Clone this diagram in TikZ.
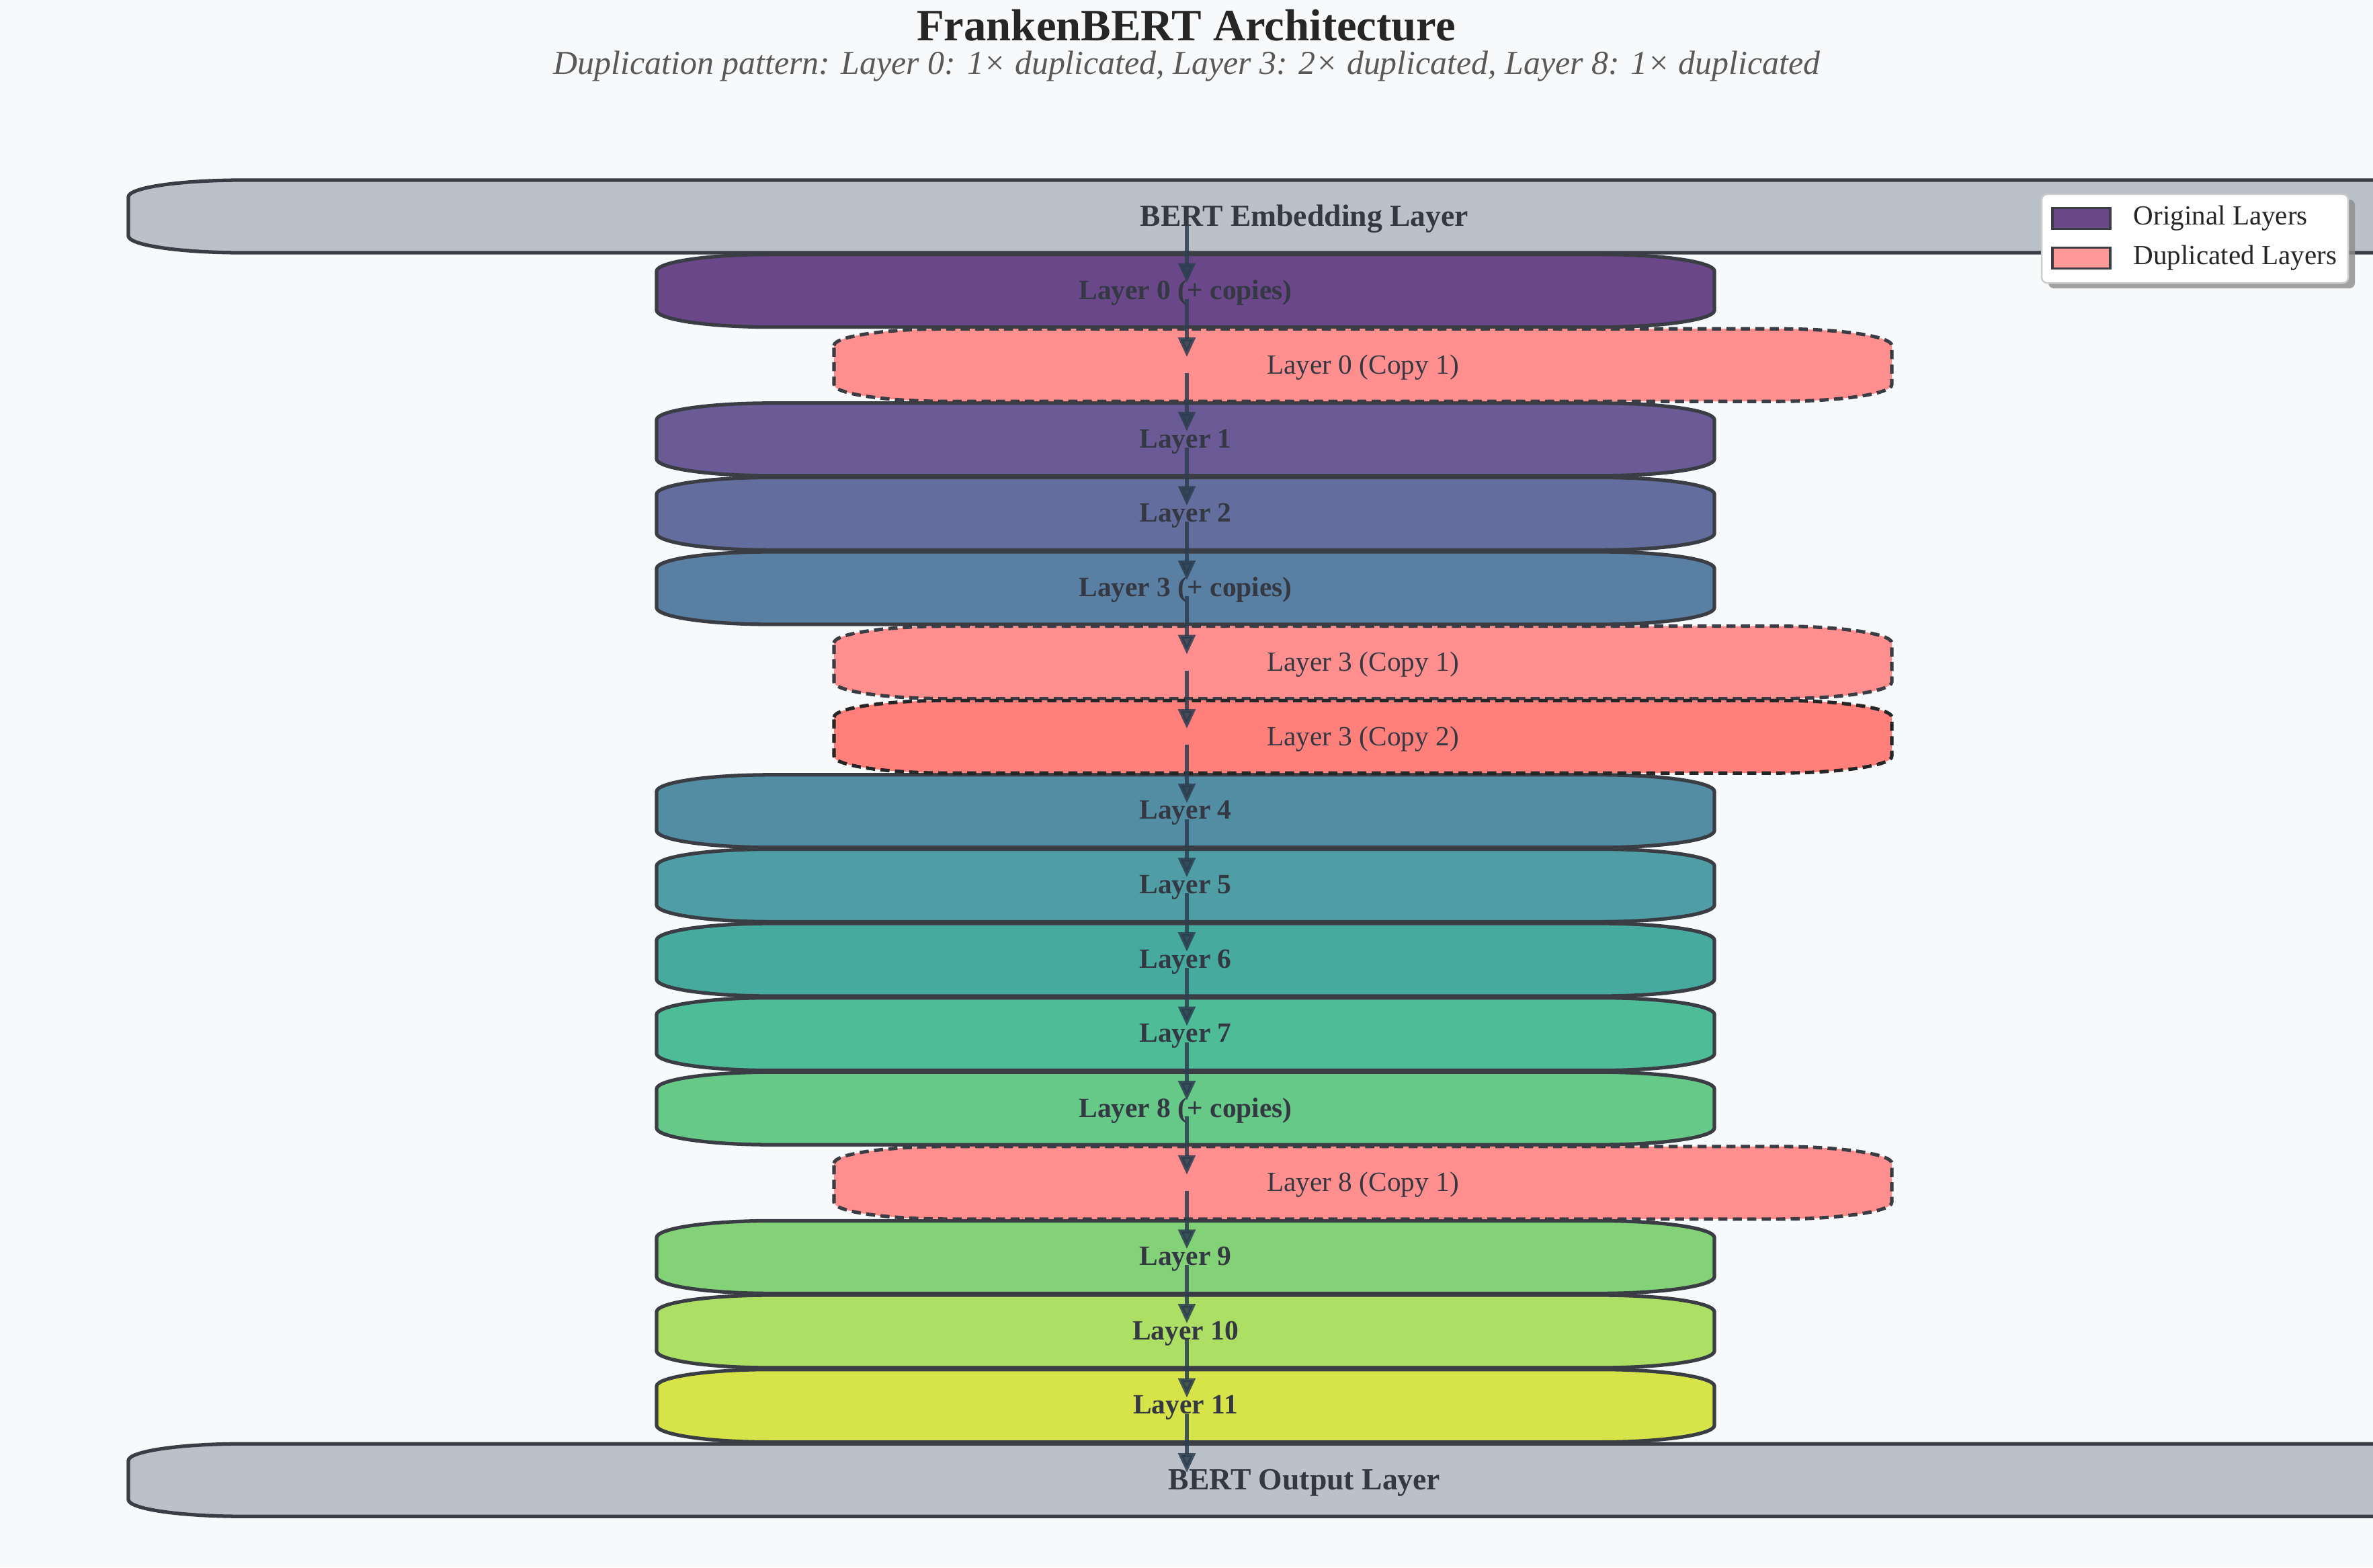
\documentclass[tikz,border=0pt]{standalone}
\usepackage{fontspec}
\setmainfont{Liberation Serif}
\usetikzlibrary{arrows.meta, positioning, shadows}
\definecolor{bgGray}{HTML}{F8F9FA}
\definecolor{inkGray}{HTML}{333842}
\definecolor{edgeGray}{HTML}{3A3D44}
\definecolor{ioGray}{HTML}{BBC1C9}
\definecolor{arrowBlue}{HTML}{2C3E50}
\definecolor{dupRed}{HTML}{FF8F8F}
\definecolor{dupDeep}{HTML}{FF7F7B}
\definecolor{dupLight}{HTML}{FF9999}
\definecolor{lay0}{HTML}{6A4789}
\definecolor{lay1}{HTML}{6A5B96}
\definecolor{lay2}{HTML}{636E9E}
\definecolor{lay3}{HTML}{597FA3}
\definecolor{lay4}{HTML}{538DA3}
\definecolor{lay5}{HTML}{4F9EA5}
\definecolor{lay6}{HTML}{47AA9F}
\definecolor{lay7}{HTML}{4FBC98}
\definecolor{lay8}{HTML}{66C987}
\definecolor{lay9}{HTML}{84D278}
\definecolor{lay10}{HTML}{ACDF64}
\definecolor{lay11}{HTML}{D6E44A}

% slab with flat elliptic ends: style, centre x, centre y, half width
\newcommand{\slab}[4]{%
  \path[#1] (#2-#4,#3+0.29) arc[start angle=180, end angle=90, x radius=1.7, y radius=0.25]
    -- (#2+#4-1.7,#3+0.54) arc[start angle=90, end angle=0, x radius=1.7, y radius=0.25]
    -- (#2+#4,#3-0.29) arc[start angle=0, end angle=-90, x radius=1.7, y radius=0.25]
    -- (#2-#4+1.7,#3-0.54) arc[start angle=270, end angle=180, x radius=1.7, y radius=0.25]
    -- cycle;}

\begin{document}
\begin{tikzpicture}[
    lbl/.style={font=\fontsize{11.8}{14}\selectfont\bfseries, text=inkGray, yshift=-0.03cm},
    iolbl/.style={font=\fontsize{13}{15}\selectfont\bfseries, text=inkGray, yshift=-0.04cm},
    copylbl/.style={font=\fontsize{11.75}{14}\selectfont, text=inkGray, yshift=-0.03cm},
    orig/.style={draw=edgeGray, line width=1.5pt},
    io/.style={draw=edgeGray, line width=1.5pt, fill=ioGray},
    dup/.style={draw=edgeGray, line width=1.45pt, dash pattern=on 0.135cm off 0.08cm, fill=dupRed},
    arr/.style={-{Triangle[length=0.29cm, width=0.25cm]}, line width=1.6pt, arrowBlue, opacity=0.85, shorten <=0.09cm, shorten >=0.15cm},
    swatch/.style={draw=edgeGray, line width=1.1pt, minimum width=0.86cm, minimum height=0.31cm, inner sep=0pt},
    legtxt/.style={font=\fontsize{11.7}{14}\selectfont, text=black!85, inner sep=0pt}
  ]
  \useasboundingbox (0,0) rectangle (35.31,-23.32);
  \fill[bgGray] (0,0) rectangle (35.31,-23.32);
  \clip (0,0) rectangle (35.31,-23.32);

  % title
  \node[font=\fontsize{19}{22}\selectfont\bfseries, text=black!85, anchor=base] (title) at (17.65,-0.60) {FrankenBERT Architecture};
  \node[font=\fontsize{14.2}{17}\selectfont\itshape, text=black!65, anchor=base] (subtitle) at (17.66,-1.10) {Duplication pattern: Layer 0: 1× duplicated, Layer 3: 2× duplicated, Layer 8: 1× duplicated};

  % embedding
  \slab{io}{19.41}{-3.22}{17.5}
  \node[iolbl] (emb) at (19.41,-3.22) {BERT Embedding Layer};

  % original layers
  \foreach \k/\r/\t in {0/1/Layer 0 (+ copies), 1/3/Layer 1, 2/4/Layer 2, 3/5/Layer 3 (+ copies),
      4/8/Layer 4, 5/9/Layer 5, 6/10/Layer 6, 7/11/Layer 7, 8/12/Layer 8 (+ copies),
      9/14/Layer 9, 10/15/Layer 10, 11/16/Layer 11} {
    \pgfmathsetmacro{\yy}{-3.22-1.106*\r}
    \slab{orig, fill=lay\k}{17.64}{\yy}{7.87}
    \node[lbl] (L\k) at (17.64,\yy) {\t};
  }

  % duplicated layers
  \slab{dup}{20.28}{-5.432}{7.87}
  \node[copylbl] (C0a) at (20.28,-5.432) {Layer 0 (Copy 1)};
  \slab{dup}{20.28}{-9.856}{7.87}
  \node[copylbl] (C3a) at (20.28,-9.856) {Layer 3 (Copy 1)};
  \slab{dup, fill=dupDeep, draw=black!85}{20.28}{-10.962}{7.87}
  \node[copylbl] (C3b) at (20.28,-10.962) {Layer 3 (Copy 2)};
  \slab{dup}{20.28}{-17.598}{7.87}
  \node[copylbl] (C8a) at (20.28,-17.598) {Layer 8 (Copy 1)};

  % output
  \slab{io}{19.41}{-22.022}{17.5}
  \node[iolbl] (out) at (19.41,-22.022) {BERT Output Layer};

  % data flow
  \coordinate (spine) at (17.66,0);
  \foreach \a/\b in {emb/L0, L0/C0a, C0a/L1, L1/L2, L2/L3, L3/C3a, C3a/C3b, C3b/L4,
      L4/L5, L5/L6, L6/L7, L7/L8, L8/C8a, C8a/L9, L9/L10, L10/L11, L11/out}
    \draw[arr] (spine |- \a) -- (spine |- \b);

  % legend
  \node[fill=white, draw=black!20, line width=0.7pt, rounded corners=0.08cm, minimum width=4.56cm, minimum height=1.32cm,
        drop shadow={shadow xshift=0.1cm, shadow yshift=-0.08cm, fill=black!45, opacity=0.8}] (legend) at (32.66,-3.55) {};
  \node[swatch, fill=lay0] (swOrig) at (30.97,-3.25) {};
  \node[legtxt, right=0.32cm of swOrig] (txtOrig) {Original Layers};
  \node[swatch, fill=dupLight] (swDup) at (30.97,-3.84) {};
  \node[legtxt, right=0.32cm of swDup] (txtDup) {Duplicated Layers};
\end{tikzpicture}
\end{document}
